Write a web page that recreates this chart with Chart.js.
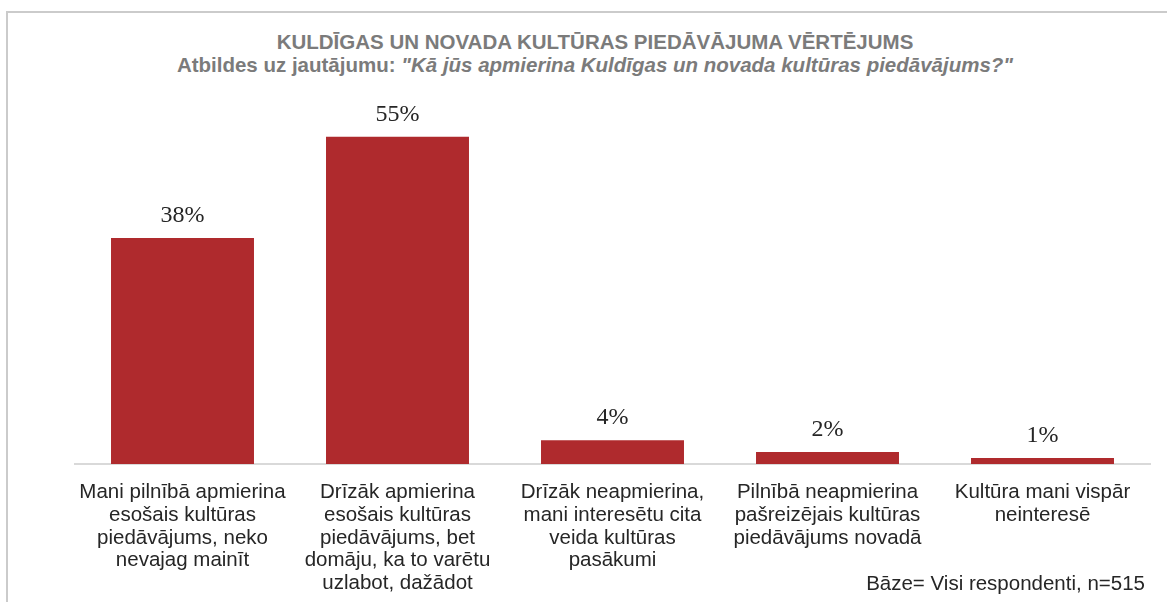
<!DOCTYPE html>
<html>
<head>
<meta charset="utf-8">
<script src="https://cdn.jsdelivr.net/npm/chart.js@4"></script>
<style>
  body { margin: 0; background: #fff; }
  #wrap { position: relative; width: 1167px; height: 602px; overflow: hidden; }
  #frame { position: absolute; left: 6px; top: 11px; width: 1300px; height: 700px;
           border-top: 2px solid #cbcbcb; border-left: 2px solid #cbcbcb; }
  .t { position: absolute; left: 0; width: 1190px; text-align: center;
       font-family: "Liberation Sans", Arial, sans-serif; font-weight: bold; color: #7b7b7b;
       font-size: 20.5px; line-height: 23px; white-space: nowrap; }
  #note { position: absolute; right: 22px; top: 571px; font-family: "Liberation Sans", Arial, sans-serif;
          font-size: 20.5px; line-height: 23px; color: #262626; }
  canvas { position: absolute; left: 0; top: 0; }
</style>
</head>
<body>
<div id="wrap">
  <div id="frame"></div>
  <div class="t" style="top:30px">KULDĪGAS UN NOVADA KULTŪRAS PIEDĀVĀJUMA VĒRTĒJUMS</div>
  <div class="t" style="top:53px">Atbildes uz jautājumu: <i>"Kā jūs apmierina Kuldīgas un novada kultūras piedāvājums?"</i></div>
  <canvas id="barChart" width="1167" height="602"></canvas>
  <div id="note">Bāze= Visi respondenti, n=515</div>
</div>
<script>
const categories = [
  ["Mani pilnībā apmierina", "esošais kultūras", "piedāvājums, neko", "nevajag mainīt"],
  ["Drīzāk apmierina", "esošais kultūras", "piedāvājums, bet", "domāju, ka to varētu", "uzlabot, dažādot"],
  ["Drīzāk neapmierina,", "mani interesētu cita", "veida kultūras", "pasākumi"],
  ["Pilnībā neapmierina", "pašreizējais kultūras", "piedāvājums novadā"],
  ["Kultūra mani vispār", "neinteresē"]
];
const values = [38, 55, 4, 2, 1];

// value labels above each bar
const valueLabels = {
  id: "valueLabels",
  afterDatasetsDraw(chart) {
    const ctx = chart.ctx;
    const meta = chart.getDatasetMeta(0);
    ctx.save();
    ctx.font = "24px 'Liberation Serif', 'Times New Roman', serif";
    ctx.fillStyle = "#262626";
    ctx.textAlign = "center";
    ctx.textBaseline = "alphabetic";
    meta.data.forEach((bar, i) => {
      ctx.fillText(values[i] + "%", bar.x, bar.y - 16);
    });
    ctx.restore();
  }
};

new Chart(document.getElementById("barChart"), {
  type: "bar",
  data: {
    labels: categories,
    datasets: [{
      data: values,
      backgroundColor: "#af2a2d",
      categoryPercentage: 1,
      barPercentage: 0.665
    }]
  },
  options: {
    responsive: false,
    animation: false,
    layout: { padding: { top: 107, left: 75, right: 17, bottom: 0 } },
    plugins: { legend: { display: false }, tooltip: { enabled: false } },
    scales: {
      x: {
        grid: { display: false, drawTicks: false },
        border: { display: true, color: "#d9d9d9", width: 2 },
        ticks: {
          color: "#262626",
          padding: 17,
          maxRotation: 0,
          autoSkip: false,
          font: { family: "'Liberation Sans', Arial, sans-serif", size: 20.5, lineHeight: 1.11 }
        },
        afterFit(scale) { scale.height = 138; }
      },
      y: {
        display: false,
        min: 0,
        max: 60
      }
    }
  },
  plugins: [valueLabels]
});
</script>
</body>
</html>
